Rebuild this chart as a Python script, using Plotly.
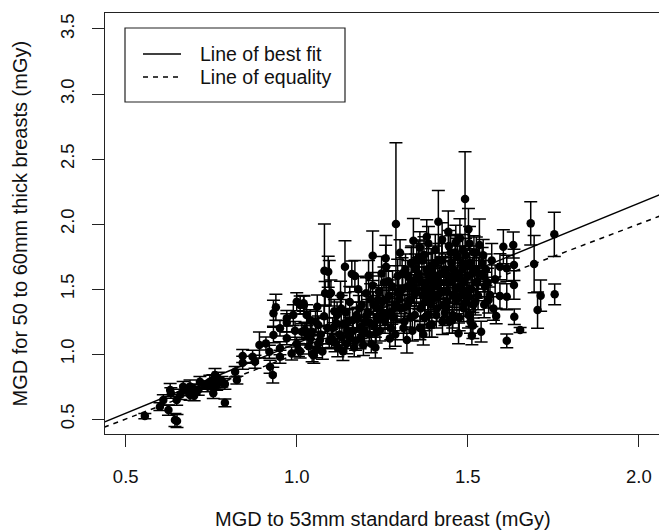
import plotly.graph_objects as go

# ---- data: MGD to 53mm standard breast (x), MGD for 50-60mm breasts (y), error (+/-) ----
x_low = [0.556, 0.600, 0.610, 0.625, 0.630, 0.632, 0.644, 0.650, 0.649, 0.668,
         0.688, 0.688, 0.700, 0.712, 0.717, 0.730, 0.746, 0.756, 0.761, 0.766,
         0.771, 0.781, 0.790, 0.790, 0.820, 0.825, 0.842, 0.842, 0.871, 0.878,
         0.891, 0.910, 0.920, 0.922, 0.930, 0.932, 0.939, 0.932, 0.951, 0.951,
         0.660, 0.676, 0.700, 0.740, 0.755, 0.770, 0.760]
y_low = [0.523, 0.595, 0.646, 0.569, 0.723, 0.700, 0.492, 0.485, 0.646, 0.748,
         0.685, 0.750, 0.730, 0.723, 0.787, 0.760, 0.787, 0.698, 0.838, 0.762,
         0.810, 0.787, 0.625, 0.770, 0.864, 0.800, 0.933, 0.985, 0.979, 0.941,
         1.069, 1.082, 1.018, 0.902, 0.838, 1.313, 1.359, 1.146, 1.198, 1.044,
         0.690, 0.720, 0.680, 0.750, 0.800, 0.780, 0.770]
err_low = [0.02, 0.03, 0.04, 0.04, 0.05, 0.04, 0.05, 0.05, 0.04, 0.04,
           0.04, 0.05, 0.04, 0.04, 0.04, 0.03, 0.05, 0.04, 0.05, 0.04,
           0.05, 0.04, 0.03, 0.04, 0.04, 0.03, 0.05, 0.05, 0.05, 0.05,
           0.10, 0.05, 0.05, 0.05, 0.06, 0.10, 0.10, 0.06, 0.06, 0.05,
           0.04, 0.04, 0.04, 0.04, 0.04, 0.04, 0.04]

x_b = [0.951, 0.971, 0.971, 0.971, 0.985, 0.990, 1.000, 1.005, 1.010, 1.015,
       1.020, 1.021, 1.024, 1.029, 1.035, 1.040, 1.044, 1.050, 1.055, 1.058,
       1.063, 1.063, 1.068, 1.070, 1.075, 1.081, 1.083, 1.090, 1.092, 1.095,
       1.100, 1.000, 1.010, 1.030, 1.045, 1.060, 1.080, 1.095, 0.995, 1.040]
y_b = [0.979, 1.275, 1.121, 1.240, 1.005, 1.300, 1.402, 1.031, 1.377, 1.172,
       1.390, 1.377, 1.185, 1.300, 1.060, 1.120, 1.172, 0.990, 1.250, 1.031,
       1.223, 1.080, 1.108, 1.150, 1.020, 1.641, 1.467, 1.200, 1.633, 1.459,
       1.470, 1.080, 1.020, 1.150, 1.000, 1.364, 1.290, 1.100, 1.180, 1.260]
err_b = [0.05, 0.06, 0.05, 0.07, 0.05, 0.08, 0.07, 0.05, 0.07, 0.06,
         0.06, 0.07, 0.06, 0.08, 0.06, 0.07, 0.06, 0.06, 0.08, 0.06,
         0.07, 0.06, 0.06, 0.07, 0.06, 0.36, 0.09, 0.08, 0.12, 0.26,
         0.10, 0.05, 0.05, 0.07, 0.06, 0.09, 0.08, 0.06, 0.07, 0.08]

x_c = [1.105, 1.112, 1.118, 1.125, 1.130, 1.135, 1.141, 1.146, 1.150, 1.155,
       1.161, 1.165, 1.170, 1.175, 1.180, 1.185, 1.190, 1.195, 1.200, 1.203,
       1.208, 1.212, 1.216, 1.222, 1.222, 1.226, 1.232, 1.236, 1.240, 1.245,
       1.250, 1.255, 1.261, 1.260, 1.266, 1.270, 1.275, 1.280, 1.285, 1.290,
       1.295, 1.120, 1.138, 1.158, 1.178, 1.198, 1.218, 1.238, 1.258, 1.278,
       1.110, 1.128, 1.148, 1.168, 1.188, 1.210, 1.230, 1.248, 1.268, 1.288,
       1.102, 1.115, 1.132, 1.143, 1.152, 1.163, 1.172, 1.183, 1.192, 1.205,
       1.214, 1.224, 1.234, 1.243, 1.252, 1.263, 1.272, 1.283, 1.293, 1.298]
y_c = [1.200, 1.087, 1.300, 1.150, 1.350, 1.020, 1.672, 1.082, 1.250, 1.400,
       1.615, 1.180, 1.600, 1.300, 1.498, 1.120, 1.380, 1.069, 1.250, 1.467,
       1.320, 1.150, 1.420, 1.756, 1.528, 1.220, 1.164, 1.350, 1.480, 1.280,
       1.400, 1.550, 1.672, 1.736, 1.300, 1.450, 1.200, 1.520, 1.380, 2.000,
       1.600, 1.050, 1.230, 1.120, 1.270, 1.180, 1.080, 1.420, 1.250, 1.330,
       1.330, 1.450, 1.180, 1.050, 1.210, 1.600, 1.050, 1.620, 1.560, 1.150,
       1.120, 1.240, 1.130, 1.320, 1.160, 1.260, 1.100, 1.350, 1.150, 1.300,
       1.240, 1.380, 1.280, 1.180, 1.320, 1.420, 1.120, 1.280, 1.360, 1.480]
err_c = [0.08, 0.07, 0.10, 0.08, 0.10, 0.07, 0.20, 0.08, 0.09, 0.12,
         0.10, 0.08, 0.12, 0.10, 0.10, 0.08, 0.10, 0.08, 0.09, 0.12,
         0.10, 0.08, 0.12, 0.19, 0.10, 0.09, 0.08, 0.10, 0.12, 0.09,
         0.11, 0.12, 0.24, 0.10, 0.10, 0.12, 0.09, 0.12, 0.11, 0.625,
         0.13, 0.07, 0.09, 0.08, 0.09, 0.08, 0.07, 0.11, 0.09, 0.10,
         0.09, 0.11, 0.08, 0.07, 0.09, 0.12, 0.08, 0.13, 0.12, 0.09,
         0.07, 0.09, 0.08, 0.10, 0.08, 0.09, 0.07, 0.10, 0.08, 0.10,
         0.09, 0.10, 0.09, 0.08, 0.10, 0.11, 0.08, 0.10, 0.10, 0.11]

x_d = [1.302, 1.305, 1.310, 1.315, 1.322, 1.325, 1.330, 1.335, 1.341, 1.345,
       1.350, 1.351, 1.355, 1.360, 1.365, 1.372, 1.375, 1.380, 1.380, 1.385,
       1.390, 1.395, 1.400, 1.405, 1.410, 1.414, 1.418, 1.422, 1.426, 1.430,
       1.435, 1.440, 1.443, 1.448, 1.452, 1.456, 1.460, 1.465, 1.470, 1.473,
       1.477, 1.480, 1.485, 1.490, 1.492, 1.495, 1.500, 1.502, 1.502, 1.506,
       1.510, 1.512, 1.516, 1.520, 1.525, 1.530, 1.534, 1.539, 1.545, 1.550,
       1.312, 1.328, 1.338, 1.348, 1.362, 1.368, 1.378, 1.388, 1.398, 1.408,
       1.420, 1.428, 1.438, 1.446, 1.458, 1.468, 1.478, 1.488, 1.498, 1.508,
       1.318, 1.332, 1.342, 1.358, 1.370, 1.383, 1.393, 1.403, 1.412, 1.424,
       1.433, 1.444, 1.455, 1.463, 1.475, 1.484, 1.496, 1.514, 1.522, 1.528,
       1.300, 1.308, 1.316, 1.324, 1.336, 1.344, 1.352, 1.366, 1.374, 1.386,
       1.392, 1.402, 1.416, 1.430, 1.437, 1.450, 1.462, 1.471, 1.482, 1.494,
       1.504, 1.518, 1.532, 1.542, 1.548, 1.440, 1.415, 1.397, 1.372, 1.356,
       1.360, 1.385, 1.405, 1.425, 1.445, 1.465, 1.485, 1.505, 1.525, 1.545,
       1.395, 1.455, 1.515, 1.335, 1.475]
y_d = [1.779, 1.350, 1.500, 1.250, 1.108, 1.600, 1.420, 1.550, 1.872, 1.300,
       1.480, 1.728, 1.620, 1.200, 1.550, 1.762, 1.400, 1.902, 1.650, 1.300,
       1.500, 1.580, 1.450, 1.700, 1.350, 2.018, 1.550, 1.620, 1.250, 1.480,
       1.650, 1.400, 1.941, 1.550, 1.700, 1.300, 1.600, 1.500, 1.750, 1.159,
       1.890, 1.450, 1.650, 1.550, 2.192, 1.400, 1.600, 1.959, 1.300, 1.700,
       1.500, 1.141, 1.377, 1.650, 1.550, 1.450, 1.838, 1.172, 1.600, 1.520,
       1.200, 1.400, 1.180, 1.650, 1.350, 1.450, 1.550, 1.220, 1.600, 1.300,
       1.480, 1.380, 1.550, 1.250, 1.650, 1.420, 1.580, 1.350, 1.680, 1.250,
       1.650, 1.280, 1.500, 1.580, 1.150, 1.450, 1.680, 1.520, 1.600, 1.720,
       1.320, 1.600, 1.450, 1.780, 1.520, 1.700, 1.480, 1.620, 1.400, 1.560,
       1.420, 1.620, 1.360, 1.520, 1.700, 1.460, 1.580, 1.720, 1.280, 1.600,
       1.380, 1.540, 1.720, 1.620, 1.360, 1.780, 1.450, 1.620, 1.500, 1.760,
       1.440, 1.780, 1.620, 1.700, 1.380, 1.480, 1.460, 1.660, 1.500, 1.740,
       1.820, 1.850, 1.800, 1.880, 1.830, 1.860, 1.800, 1.850, 1.780, 1.760,
       1.230, 1.260, 1.220, 1.700, 1.280]
err_d = [0.10, 0.10, 0.12, 0.09, 0.10, 0.12, 0.11, 0.12, 0.17, 0.10,
         0.11, 0.15, 0.12, 0.09, 0.12, 0.14, 0.11, 0.13, 0.12, 0.10,
         0.11, 0.12, 0.11, 0.13, 0.10, 0.24, 0.12, 0.12, 0.10, 0.11,
         0.12, 0.11, 0.16, 0.12, 0.13, 0.10, 0.12, 0.11, 0.14, 0.08,
         0.15, 0.11, 0.12, 0.12, 0.364, 0.11, 0.12, 0.16, 0.10, 0.13,
         0.11, 0.07, 0.10, 0.12, 0.12, 0.11, 0.20, 0.08, 0.12, 0.11,
         0.09, 0.11, 0.08, 0.12, 0.10, 0.11, 0.12, 0.09, 0.12, 0.10,
         0.11, 0.10, 0.12, 0.09, 0.12, 0.11, 0.12, 0.10, 0.13, 0.09,
         0.12, 0.09, 0.11, 0.12, 0.08, 0.11, 0.13, 0.11, 0.12, 0.13,
         0.10, 0.12, 0.11, 0.14, 0.11, 0.13, 0.11, 0.12, 0.10, 0.12,
         0.11, 0.12, 0.10, 0.11, 0.13, 0.11, 0.12, 0.13, 0.10, 0.12,
         0.10, 0.12, 0.13, 0.12, 0.10, 0.13, 0.11, 0.12, 0.11, 0.13,
         0.11, 0.13, 0.12, 0.12, 0.10, 0.11, 0.11, 0.12, 0.11, 0.13,
         0.12, 0.13, 0.12, 0.13, 0.12, 0.13, 0.12, 0.13, 0.12, 0.12,
         0.10, 0.10, 0.10, 0.12, 0.10]

x_e = [1.553, 1.558, 1.561, 1.565, 1.570, 1.580, 1.583, 1.594, 1.594, 1.604,
       1.614, 1.614, 1.614, 1.633, 1.635, 1.635, 1.636, 1.653, 1.684, 1.694,
       1.704, 1.713, 1.753, 1.754, 1.575]
y_e = [1.650, 1.550, 1.415, 1.454, 1.720, 1.575, 1.292, 1.672, 1.446, 1.825,
       1.659, 1.441, 1.102, 1.838, 1.685, 1.531, 1.287, 1.185, 2.005, 1.692,
       1.338, 1.449, 1.921, 1.459, 1.350]
err_e = [0.12, 0.11, 0.10, 0.10, 0.13, 0.11, 0.06, 0.10, 0.10, 0.13,
         0.10, 0.10, 0.053, 0.10, 0.12, 0.11, 0.06, 0.02, 0.166, 0.22,
         0.14, 0.12, 0.17, 0.08, 0.09]

# fitted line and line of equality
fit_slope = 1.077
fit_intercept = 0.006
line_x = [0.3, 2.2]

x_range = [0.4395, 2.059]
y_range = [0.385, 3.623]
x_ticks = [0.5, 1.0, 1.5, 2.0]
y_ticks = [0.5, 1.0, 1.5, 2.0, 2.5, 3.0, 3.5]
tick_fmt = lambda v: f"{v:.1f}"

x_all = x_low + x_b + x_c + x_d + x_e
y_all = y_low + y_b + y_c + y_d + y_e
err_all = err_low + err_b + err_c + err_d + err_e

FONT = "Liberation Sans, Arial, Helvetica, sans-serif"
INK = "#111111"

fig = go.Figure()
fig.add_trace(go.Scatter(
    x=line_x, y=[fit_slope * v + fit_intercept for v in line_x],
    mode="lines", line=dict(color="black", width=1.5), name="Line of best fit",
    showlegend=False, hoverinfo="skip"))
fig.add_trace(go.Scatter(
    x=line_x, y=line_x,
    mode="lines", line=dict(color="black", width=1.5, dash="5px,5px"),
    name="Line of equality", showlegend=False, hoverinfo="skip"))
fig.add_trace(go.Scatter(
    x=x_all, y=y_all, mode="markers",
    marker=dict(color="black", size=8.5, line=dict(width=0)),
    error_y=dict(type="data", array=err_all, visible=True, color="black",
                 thickness=1.5, width=6.5),
    showlegend=False, name="MGD"))

# plot area geometry in pixels: left 105, top 13, bottom 434, right 659
L, T, B, R = 105, 13, 434, 659
W, H = R - L, B - T
px = lambda v: (v - L) / W
py = lambda v: (B - v) / H

# legend box (drawn manually to match R style)
shapes = [
    dict(type="rect", xref="paper", yref="paper", x0=px(125), x1=px(345),
         y0=py(102), y1=py(28), line=dict(color="#222222", width=1.2)),
    dict(type="line", xref="paper", yref="paper", x0=px(143), x1=px(181),
         y0=py(54), y1=py(54), line=dict(color="black", width=1.4)),
    dict(type="line", xref="paper", yref="paper", x0=px(143), x1=px(181),
         y0=py(77), y1=py(77), line=dict(color="black", width=1.4, dash="5px,5px")),
]
annotations = [
    dict(text="Line of best fit", xref="paper", yref="paper", x=px(198), y=py(54),
         xanchor="left", yanchor="middle", showarrow=False,
         font=dict(family=FONT, size=19.5, color=INK)),
    dict(text="Line of equality", xref="paper", yref="paper", x=px(198), y=py(77),
         xanchor="left", yanchor="middle", showarrow=False,
         font=dict(family=FONT, size=19.5, color=INK)),
    dict(text="MGD to 53mm standard breast (mGy)", xref="paper", yref="paper",
         x=px(382.5), y=py(519), xanchor="center", yanchor="middle", showarrow=False,
         font=dict(family=FONT, size=20, color=INK)),
    dict(text="MGD for 50 to 60mm thick breasts (mGy)", xref="paper", yref="paper",
         x=px(19), y=py(223.5), xanchor="center", yanchor="middle", showarrow=False,
         textangle=-90, font=dict(family=FONT, size=20, color=INK)),
]

fig.update_layout(
    width=659, height=531,
    margin=dict(l=L, r=659 - R, t=T, b=531 - B, pad=0),
    paper_bgcolor="white", plot_bgcolor="white",
    font=dict(family=FONT, color=INK),
    shapes=shapes, annotations=annotations,
    showlegend=False,
)
fig.update_xaxes(
    range=x_range, tickvals=x_ticks, ticktext=[tick_fmt(v) for v in x_ticks],
    showgrid=False, zeroline=False, showline=True, linecolor="#222222", linewidth=1.3,
    mirror=True, ticks="outside", ticklen=12, tickwidth=1.3, tickcolor="#222222",
    tickfont=dict(family=FONT, size=18.5, color=INK), ticklabelstandoff=14,
)
fig.update_yaxes(
    range=y_range, tickvals=y_ticks, ticktext=[tick_fmt(v) for v in y_ticks],
    showgrid=False, zeroline=False, showline=True, linecolor="#222222", linewidth=1.3,
    mirror=False, ticks="outside", ticklen=12, tickwidth=1.3, tickcolor="#222222",
    tickangle=-90, tickfont=dict(family=FONT, size=18.5, color=INK), ticklabelstandoff=10,
)

fig.write_html("out.html")
